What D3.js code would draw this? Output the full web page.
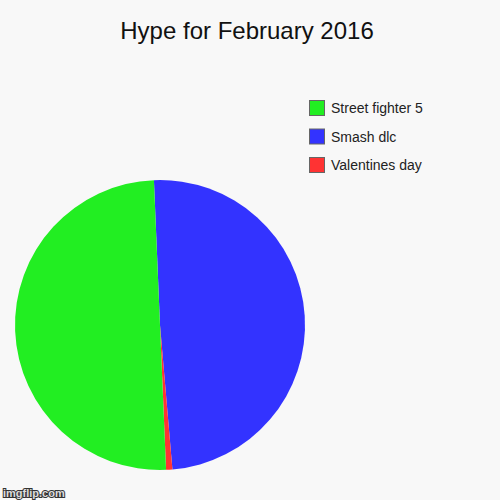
<!DOCTYPE html>
<html>
<head>
<meta charset="utf-8">
<script src="https://cdn.jsdelivr.net/npm/d3@7"></script>
<style>
  html, body { margin: 0; padding: 0; background: #f8f8f8; }
  svg { display: block; }
</style>
</head>
<body>
<svg id="chart" width="500" height="500"></svg>
<script>
// slice order as drawn clockwise from the top
const labels = ["Smash dlc", "Valentines day", "Street fighter 5"];
const values = [49.3, 0.7, 50];
const colors = ["#3333ff", "#ff3333", "#22ee22"];
// legend reads top to bottom
const legendOrder = ["Street fighter 5", "Smash dlc", "Valentines day"];
const title = "Hype for February 2016";

const svg = d3.select("#chart");
const width = 500, height = 500;

svg.append("rect")
  .attr("width", width)
  .attr("height", height)
  .attr("fill", "#f8f8f8");

svg.append("text")
  .attr("x", 247)
  .attr("y", 39)
  .attr("text-anchor", "middle")
  .attr("font-family", "Arial, 'Liberation Sans', sans-serif")
  .attr("font-size", "24px")
  .attr("fill", "#111")
  .text(title);

const color = d3.scaleOrdinal().domain(labels).range(colors);

const radius = 145;
const g = svg.append("g")
  .attr("transform", "translate(160,325)");

const pie = d3.pie()
  .sort(null)
  .startAngle(-2.4 * Math.PI / 180)
  .endAngle(2 * Math.PI - 2.4 * Math.PI / 180);

const arc = d3.arc().innerRadius(0).outerRadius(radius);

const data = labels.map((l, i) => ({ label: l, value: values[i] }));

g.selectAll("path")
  .data(pie.value(d => d.value)(data))
  .join("path")
  .attr("d", arc)
  .attr("fill", d => color(d.data.label));

// legend
const legend = svg.append("g")
  .attr("transform", "translate(309,100)");

const item = legend.selectAll("g")
  .data(legendOrder)
  .join("g")
  .attr("transform", (d, i) => `translate(0,${i * 28.5})`);

item.append("rect")
  .attr("x", 0.5)
  .attr("y", 0.5)
  .attr("width", 15)
  .attr("height", 15)
  .attr("fill", d => color(d))
  .attr("stroke", "#666")
  .attr("stroke-width", 1);

item.append("text")
  .attr("x", 22)
  .attr("y", 13)
  .attr("font-family", "Arial, 'Liberation Sans', sans-serif")
  .attr("font-size", "14px")
  .attr("fill", "#222")
  .text(d => d);

// watermark
svg.append("text")
  .attr("x", 3)
  .attr("y", 497)
  .attr("font-family", "Arial, 'Liberation Sans', sans-serif")
  .attr("font-size", "11px")
  .attr("font-weight", "bold")
  .attr("fill", "#ddd")
  .attr("stroke", "#333")
  .attr("stroke-width", 2)
  .attr("paint-order", "stroke")
  .text("imgflip.com");
</script>
</body>
</html>
